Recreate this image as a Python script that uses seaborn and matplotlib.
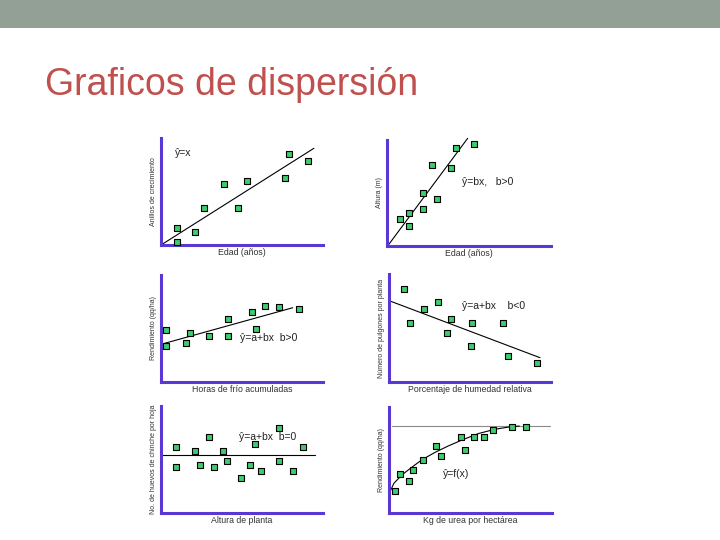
import matplotlib
matplotlib.use("Agg")
import matplotlib.pyplot as plt
import seaborn as sns
import pandas as pd
from matplotlib.patches import Rectangle

sns.set_theme(style="white")
plt.rcParams['font.family'] = ['Liberation Sans', 'DejaVu Sans']

TITLE = "Graficos de dispersión"

# ---- data (normalised 0-100 coordinates) ----
p1_x = [9.9, 9.9, 21.0, 26.5, 38.9, 47.3, 52.9, 76.4, 79.2, 90.9]
p1_y = [15.6, 2.5, 12.4, 34.6, 56.7, 34.6, 60.1, 62.9, 85.0, 78.5]
p1_lx = [0, 94.4]
p1_ly = [0, 90.4]

p2_x = [7.7, 13.2, 13.2, 21.8, 21.8, 30.7, 27.3, 39.2, 41.9, 53.2]
p2_y = [25.5, 31.4, 19.2, 50.0, 35.2, 44.3, 76.4, 73.3, 92.2, 95.9]
p2_lx = [0.8, 49.2]
p2_ly = [0.9, 101.6]

p3_x = [3.3, 3.3, 15.4, 18.1, 29.6, 41.2, 41.2, 56.0, 58.6, 64.4, 72.8, 85.0]
p3_y = [48.9, 33.9, 36.4, 46.1, 43.0, 58.6, 43.0, 65.7, 49.3, 71.3, 69.8, 68.5]
p3_lx = [0, 81.3]
p3_ly = [35.2, 69.4]

p4_x = [9.4, 13.0, 21.6, 30.1, 35.8, 38.5, 51.0, 50.6, 70.2, 73.5, 91.2]
p4_y = [86.4, 54.9, 67.9, 74.4, 45.6, 58.1, 54.9, 33.6, 54.9, 24.1, 17.3]
p4_lx = [0.6, 93.2]
p4_ly = [75.0, 22.5]

p5_x = [9.1, 9.1, 21.0, 24.1, 29.6, 32.5, 38.1, 40.9, 49.2, 54.9, 58.2, 61.9, 72.8, 73.0, 81.3, 87.5]
p5_y = [61.4, 42.7, 58.2, 45.1, 70.7, 42.7, 58.2, 48.3, 33.0, 45.1, 64.5, 39.0, 79.7, 48.3, 39.0, 61.4]
p5_lx = [0, 95]
p5_ly = [53.9, 53.9]

p6_x = [3.5, 6.7, 12.1, 14.9, 20.7, 29.0, 31.7, 44.0, 46.6, 52.3, 58.1, 63.8, 75.6, 83.9]
p6_y = [21.0, 36.8, 30.5, 40.3, 50.3, 62.9, 53.5, 72.0, 59.7, 72.0, 72.0, 78.6, 80.8, 81.4]
p6_cx = [0, 3, 8, 13, 20, 28, 36, 45, 55, 65, 75, 80]
p6_cy = [18, 28, 36, 42, 50, 57, 63, 69, 75, 79, 81.5, 82]
p6_hx = [1.6, 98.8]
p6_hy = [82.4, 82.4]

xlabels = ["Edad (años)", "Edad (años)", "Horas de frío acumuladas",
           "Porcentaje de humedad relativa", "Altura de planta",
           "Kg de urea por hectárea"]
ylabels = ["Anillos de crecimiento", "Altura (m)", "Rendimiento (qq/ha)",
           "Número de pulgones por planta", "No. de huevos de chinche por hoja",
           "Rendimiento (qq/ha)"]
eqs = ["ŷ=x", "ŷ=bx,   b>0", "ŷ=a+bx  b>0", "ŷ=a+bx    b<0", "ŷ=a+bx  b=0", "ŷ=f(x)"]
eq_pos = [(8.6, 85.7), (45.5, 60.7), (48.8, 41.4), (44.9, 70.4), (48.3, 71.3), (33, 37)]

# ---- layout (pixels) ----
W, H = 720, 540
rects_px = [(161, 138, 323, 245), (387, 140, 551, 246),
            (161, 275, 323, 382), (389, 274, 551, 382),
            (161, 406, 323, 513), (389, 407, 552, 513)]

fig = plt.figure(figsize=(7.2, 5.4), dpi=100)
fig.patches.append(Rectangle((0, 1 - 28 / H), 1, 28 / H, transform=fig.transFigure,
                             facecolor="#93a096", edgecolor="none", zorder=0))
fig.text(45 / W, 1 - 95 / H, TITLE, fontsize=27, color="#c0504d",
         ha="left", va="baseline")

pts = [(p1_x, p1_y), (p2_x, p2_y), (p3_x, p3_y), (p4_x, p4_y), (p5_x, p5_y), (p6_x, p6_y)]
lines = [(p1_lx, p1_ly), (p2_lx, p2_ly), (p3_lx, p3_ly), (p4_lx, p4_ly), (p5_lx, p5_ly), (p6_cx, p6_cy)]

SPINE = "#5a38d4"
for i, (x0, y0, x1, y1) in enumerate(rects_px):
    ax = fig.add_axes([x0 / W, 1 - y1 / H, (x1 - x0) / W, (y1 - y0) / H])
    ax.set_xlim(0, 100)
    ax.set_ylim(0, 100)
    ax.patch.set_alpha(0)
    if i == 5:
        sns.lineplot(x=p6_hx, y=p6_hy, ax=ax, color="#8a8a8a", lw=0.8, sort=False, estimator=None)
    lx, ly = lines[i]
    sns.lineplot(x=lx, y=ly, ax=ax, color="black", lw=0.8, sort=False, estimator=None)
    for l in ax.lines:
        l.set_clip_on(False)
    px, py = pts[i]
    df = pd.DataFrame({"x": px, "y": py})
    sns.scatterplot(data=df, x="x", y="y", ax=ax, marker="s", s=20,
                    color="#3dcc6e", edgecolor="black", linewidth=0.8, zorder=5, clip_on=False)
    ax.text(eq_pos[i][0], eq_pos[i][1], eqs[i], fontsize=7.5, color="#222222",
            ha="left", va="center")
    for s in ["top", "right"]:
        ax.spines[s].set_visible(False)
    for s in ["left", "bottom"]:
        ax.spines[s].set_color(SPINE)
        ax.spines[s].set_linewidth(2.2)
    ax.set_xticks([])
    ax.set_yticks([])
    ax.set_xlabel(xlabels[i], fontsize=6.3, color="#333333", labelpad=2.5)
    ax.set_ylabel(ylabels[i], fontsize=5, color="#333333", labelpad=3)

fig.savefig("out.png", dpi=100)
